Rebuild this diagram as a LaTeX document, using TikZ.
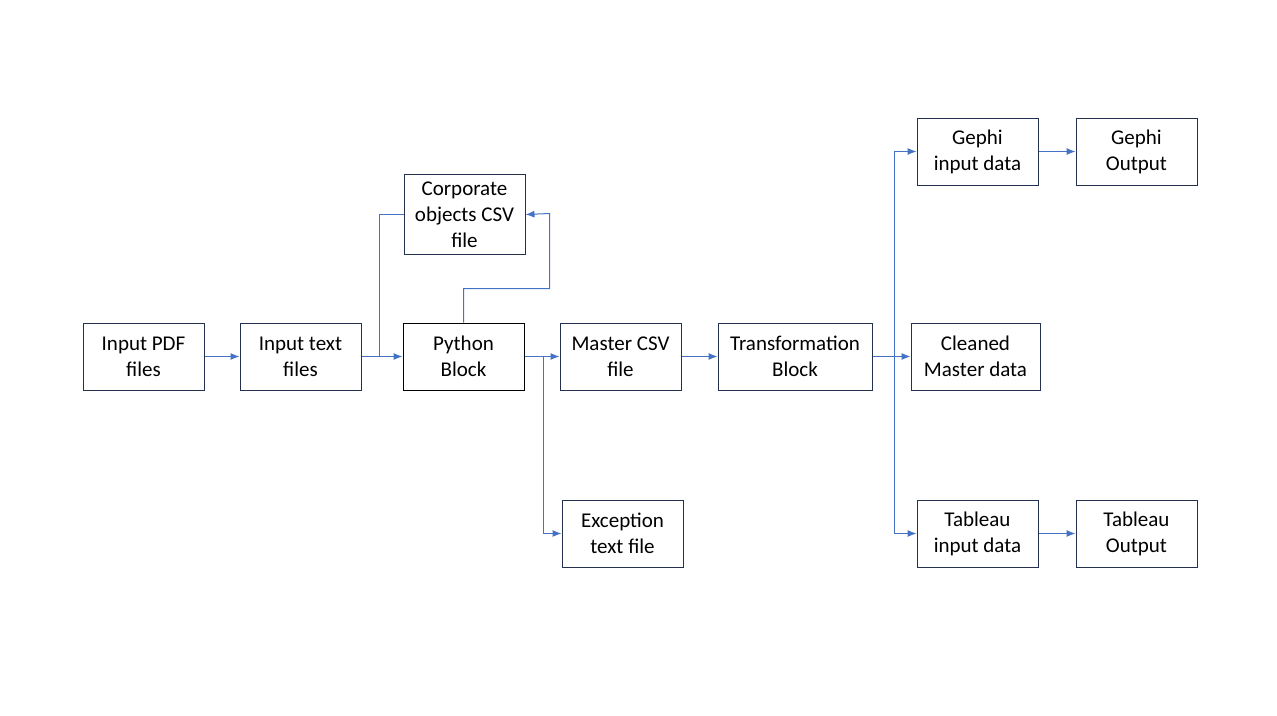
\documentclass[tikz,border=0pt]{standalone}
\usepackage{fontspec}
\setmainfont{Carlito}
\usetikzlibrary{arrows.meta}
\definecolor{boxline}{HTML}{23314F}
\definecolor{conn}{HTML}{4472C4}
\tikzset{
  box/.style={draw=boxline, line width=1pt, align=center, inner sep=0pt,
    font=\fontsize{21}{26}\selectfont, text=black},
  conn/.style={draw=conn, line width=1pt, -{Latex[length=9pt,width=7pt]}},
  plain/.style={draw=conn, line width=1pt}
}
\begin{document}
\begin{tikzpicture}[x=1pt,y=-1pt]
\useasboundingbox (0,0) rectangle (1277,715);
\node[box, minimum width=121pt, minimum height=67pt] (pdf) at (143.5,356.5) {Input PDF\\files};
\node[box, minimum width=121pt, minimum height=67pt] (txt) at (300.5,356.5) {Input text\\files};
\node[box, draw=black, minimum width=121pt, minimum height=67pt] (py) at (463.5,356.5) {Python\\Block};
\node[box, minimum width=121pt, minimum height=80pt] (corp) at (464.5,214.5) {Corporate\\objects CSV\\file};
\node[box, minimum width=121pt, minimum height=67pt] (master) at (620.5,356.5) {Master CSV\\file};
\node[box, minimum width=121pt, minimum height=67pt] (exc) at (622.5,533.5) {Exception\\text file};
\node[box, minimum width=154pt, minimum height=67pt] (trans) at (795,356.5) {Transformation\\Block};
\node[box, minimum width=121pt, minimum height=67pt] (gin) at (977.5,151.5) {Gephi\\input data};
\node[box, minimum width=121pt, minimum height=67pt] (gout) at (1136.5,151.5) {Gephi\\Output};
\node[box, minimum width=129pt, minimum height=67pt] (clean) at (975.5,356.5) {Cleaned\\Master data};
\node[box, minimum width=121pt, minimum height=67pt] (tin) at (977.5,533.5) {Tableau\\input data};
\node[box, minimum width=121pt, minimum height=67pt] (tout) at (1136.5,533.5) {Tableau\\Output};

\coordinate (j1) at (379.5,356.5);
\coordinate (j2) at (543.5,356.5);
\coordinate (j3) at (894.5,356.5);

\draw[conn] (pdf) -- (txt);
\draw[conn] (txt) -- (py);
\draw[plain] (corp.west) -| (j1);
\draw[conn] (py.north) -- ++(0,-34) -| ++(86,-75) -- (corp.east);
\draw[conn] (py) -- (master);
\draw[conn] (j2) |- (exc.west);
\draw[conn] (master) -- (trans);
\draw[conn] (trans) -- (clean);
\draw[conn] (j3) |- (gin.west);
\draw[conn] (j3) |- (tin.west);
\draw[conn] (gin) -- (gout);
\draw[conn] (tin) -- (tout);
\end{tikzpicture}
\end{document}
